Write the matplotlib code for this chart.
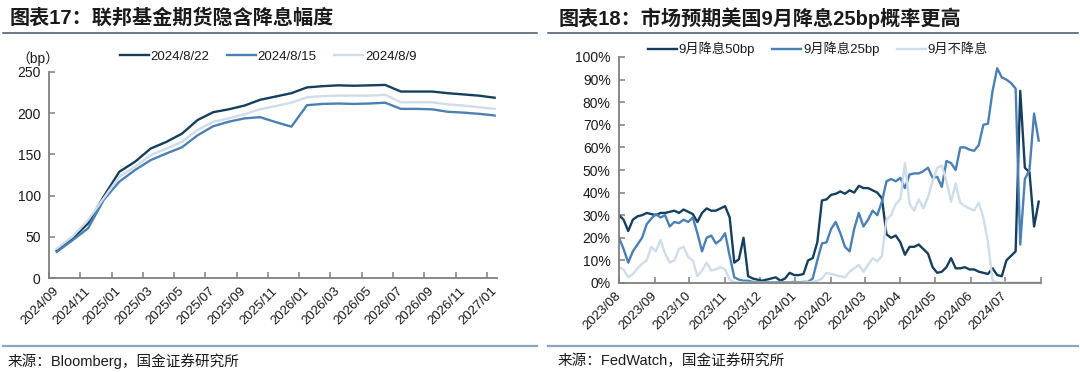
import matplotlib
matplotlib.use("Agg")
import matplotlib.pyplot as plt
from matplotlib.lines import Line2D
import numpy as np
import pandas as pd

plt.rcParams['font.family'] = ['Liberation Sans', 'Noto Sans CJK SC']
plt.rcParams['axes.unicode_minus'] = False

# ---- left chart: implied cuts by fed funds futures (bp), monthly contracts
fut_months = pd.date_range('2024-09-01', periods=29, freq='MS')
cut_0822 = [33.5, 48, 66.5, 99, 129, 141, 157, 165, 175, 191.5,
            201, 204.5, 209, 216, 220, 224, 231, 232.5, 233.5, 233,
            233.5, 234, 226, 226, 226, 224, 222.5, 221, 218.5]
cut_0815 = [32, 46, 60.5, 95, 117, 131, 143, 151, 158.5, 173,
            184, 189.5, 193.5, 195, 189, 183.5, 209.5, 211, 211.5, 211,
            211.5, 212.5, 205, 205, 204.5, 201.5, 200.5, 199, 197]
cut_0809 = [36, 50.5, 70.5, 97, 123, 135, 149, 157, 165, 179.5,
            189.5, 193.5, 198.5, 204.5, 208.5, 212.5, 219, 220.5, 221, 221,
            221, 222, 213, 213, 213, 210.5, 209, 207, 205]
left_names = ['2024/8/22', '2024/8/15', '2024/8/9']

# ---- right chart: FedWatch probabilities for the Sep meeting (%), every 4 days
obs_dates = pd.date_range('2023-08-01', periods=92, freq='4D')
prob_50 = [30, 28, 23, 28, 29.5, 30, 31, 30.5, 30, 31,
           31, 31.5, 32, 31, 32.5, 31.5, 30.5, 27, 31, 33,
           32, 32, 33, 34, 29, 9, 10.5, 20, 3, 2,
           1.5, 1, 1.5, 2, 2.5, 1, 2, 4.5, 3.5, 3.5,
           4, 10, 11, 18, 36.5, 37, 39, 39.5, 40.5, 39.5,
           41, 40, 43, 42, 42, 41, 40, 37.5, 21.5, 20,
           21, 18, 12.5, 16, 16, 17, 15, 13, 7, 4.5,
           5, 7, 11, 6.5, 6.5, 7, 6, 6, 5, 4.5,
           4, 6.5, 3.5, 3, 10, 12, 14, 85, 51, 49,
           25, 36]
prob_25 = [20, 15, 9, 14, 17, 20, 26, 28.5, 30.5, 29,
           30, 25, 27, 26.5, 28, 27, 29, 22, 14, 20,
           21, 17.5, 19, 22, 12, 2.5, 1.5, 1, 1, 0.5,
           0.5, 0.3, 0.5, 0.3, 0.3, 0.5, 0.3, 0.3, 0.5, 0.3,
           0.5, 0.5, 2, 10, 17.5, 18, 24, 27, 22, 16,
           14, 24, 31, 25, 28, 32, 30, 36, 45, 46,
           45, 46.5, 42, 48, 48.5, 48.5, 49.5, 51, 46.5, 47,
           42.5, 54, 53, 50, 60, 60, 59, 58.5, 61, 70,
           70.5, 85, 95, 91, 90, 88.5, 86, 17, 46, 50,
           75, 63]
prob_0 = [7, 6, 2.5, 4, 6.5, 8.5, 10, 16, 14, 19,
          13, 9, 10, 15, 16, 11.5, 10, 3, 5.5, 9,
          5.5, 6, 7, 6, 1.5, 0.3, 0.2, 0.2, 0.1, 0.1,
          0.1, 0.1, 0.1, 0.1, 0.1, 0.1, 0.1, 0.1, 0.1, 0.1,
          0.2, 0.3, 0.5, 1, 2, 4.5, 4, 3.5, 3, 2.5,
          5, 6.5, 8, 5, 8, 11, 9.5, 12, 28, 30,
          35, 37, 53, 35, 32, 37, 33, 38, 45, 51,
          52, 45, 36, 44, 35.5, 34, 33, 32, 35.5, 29,
          18, 1, 0.3, 0.2, 0.2, 0.2, 0.2, 0.2, 0.2, 0.2,
          0.2, 0.2]
right_names = ['9月降息50bp', '9月降息25bp', '9月不降息']

colors = ['#153f5c', '#4b80b4', '#cfdcea']
spine_c = '#7f7f7f'
text_c = '#1a1a1a'

fig = plt.figure(figsize=(10.8, 3.72), dpi=100)


def style_axes(ax):
    for s in ['top', 'right']:
        ax.spines[s].set_visible(False)
    for s in ['left', 'bottom']:
        ax.spines[s].set_color(spine_c)
        ax.spines[s].set_linewidth(1.3)
    ax.tick_params(axis='both', which='major', direction='in', length=4,
                   width=1.1, color=spine_c, labelcolor=text_c)
    ax.tick_params(axis='y', labelsize=10, pad=6)


# ---- left panel
axl = fig.add_axes([49 / 1080, 1 - 278.3 / 372, 448 / 1080, 206.6 / 372])
xi = np.arange(len(fut_months))
for vals, c in zip([cut_0822, cut_0815, cut_0809], colors):
    axl.plot(xi, vals, color=c, lw=1.7, solid_joinstyle='round')
axl.set_ylim(0, 250)
axl.set_yticks(np.arange(0, 251, 50))
axl.set_xlim(-0.5, 28.15)
style_axes(axl)
# tick marks between categories, labels on every second month
axl.set_xticks(np.arange(-0.5, 28, 2))
axl.set_xticklabels([])
axl.set_xticks(xi[::2], minor=True)
axl.set_xticklabels([d.strftime('%Y/%m') for d in fut_months[::2]], minor=True,
                    rotation=45, ha='right', va='center', rotation_mode='anchor',
                    fontsize=9.5, color=text_c)
axl.tick_params(axis='x', which='minor', length=0, pad=8)

fig.text(16 / 1080, 1 - 58.5 / 372, '（bp）', fontsize=10, color=text_c,
         va='center', ha='left')
hl = [Line2D([], [], color=c, lw=1.7) for c in colors]
fig.legend(hl, left_names, loc='center', bbox_to_anchor=(268 / 1080, 1 - 57 / 372),
           ncol=3, frameon=False, fontsize=9.5, handlelength=2.2,
           handletextpad=0.15, columnspacing=1.3, labelcolor=text_c)

# ---- right panel
axr = fig.add_axes([619 / 1080, 1 - 283 / 372, 422 / 1080, 226 / 372])
for vals, c in zip([prob_50, prob_25, prob_0], colors):
    axr.plot(obs_dates, vals, color=c, lw=1.7, solid_joinstyle='round')
axr.set_ylim(0, 100)
axr.set_yticks(np.arange(0, 101, 10))
axr.set_yticklabels([f'{v}%' for v in range(0, 101, 10)])
month_ticks = pd.date_range('2023-08-01', '2024-08-01', freq='MS')
axr.set_xlim(month_ticks[0], month_ticks[-1])
style_axes(axr)
axr.set_xticks(month_ticks)
axr.set_xticklabels([d.strftime('%Y/%m') for d in month_ticks[:-1]] + [''],
                    rotation=45, ha='right', va='center', rotation_mode='anchor',
                    fontsize=9.5, color=text_c)
axr.tick_params(axis='x', pad=8)

hr = [Line2D([], [], color=c, lw=1.7) for c in colors]
fig.legend(hr, right_names, loc='center', bbox_to_anchor=(818 / 1080, 1 - 49 / 372),
           ncol=3, frameon=False, fontsize=9.5, handlelength=2.2,
           handletextpad=0.15, columnspacing=1.3, labelcolor=text_c)

# ---- titles, rules and sources
fig.text(10 / 1080, 1 - 18 / 372, '图表17：联邦基金期货隐含降息幅度', fontsize=14.5,
         fontweight='bold', color=text_c, va='center', ha='left')
fig.text(559 / 1080, 1 - 18 / 372, '图表18：市场预期美国9月降息25bp概率更高', fontsize=14.5,
         fontweight='bold', color=text_c, va='center', ha='left')

for x0, x1 in [(3, 537), (548, 1078)]:
    fig.add_artist(Line2D([x0 / 1080, x1 / 1080], [1 - 33 / 372] * 2,
                          color='#3e5668', lw=1.1))
    fig.add_artist(Line2D([x0 / 1080, x1 / 1080], [1 - 346 / 372] * 2,
                          color='#8ea6bb', lw=1.6))

fig.text(8 / 1080, 1 - 361 / 372, '来源：Bloomberg，国金证券研究所', fontsize=10.5,
         color=text_c, va='center', ha='left')
fig.text(558 / 1080, 1 - 361 / 372, '来源：FedWatch，国金证券研究所', fontsize=10.5,
         color=text_c, va='center', ha='left')

fig.savefig('out.png', dpi=100)
